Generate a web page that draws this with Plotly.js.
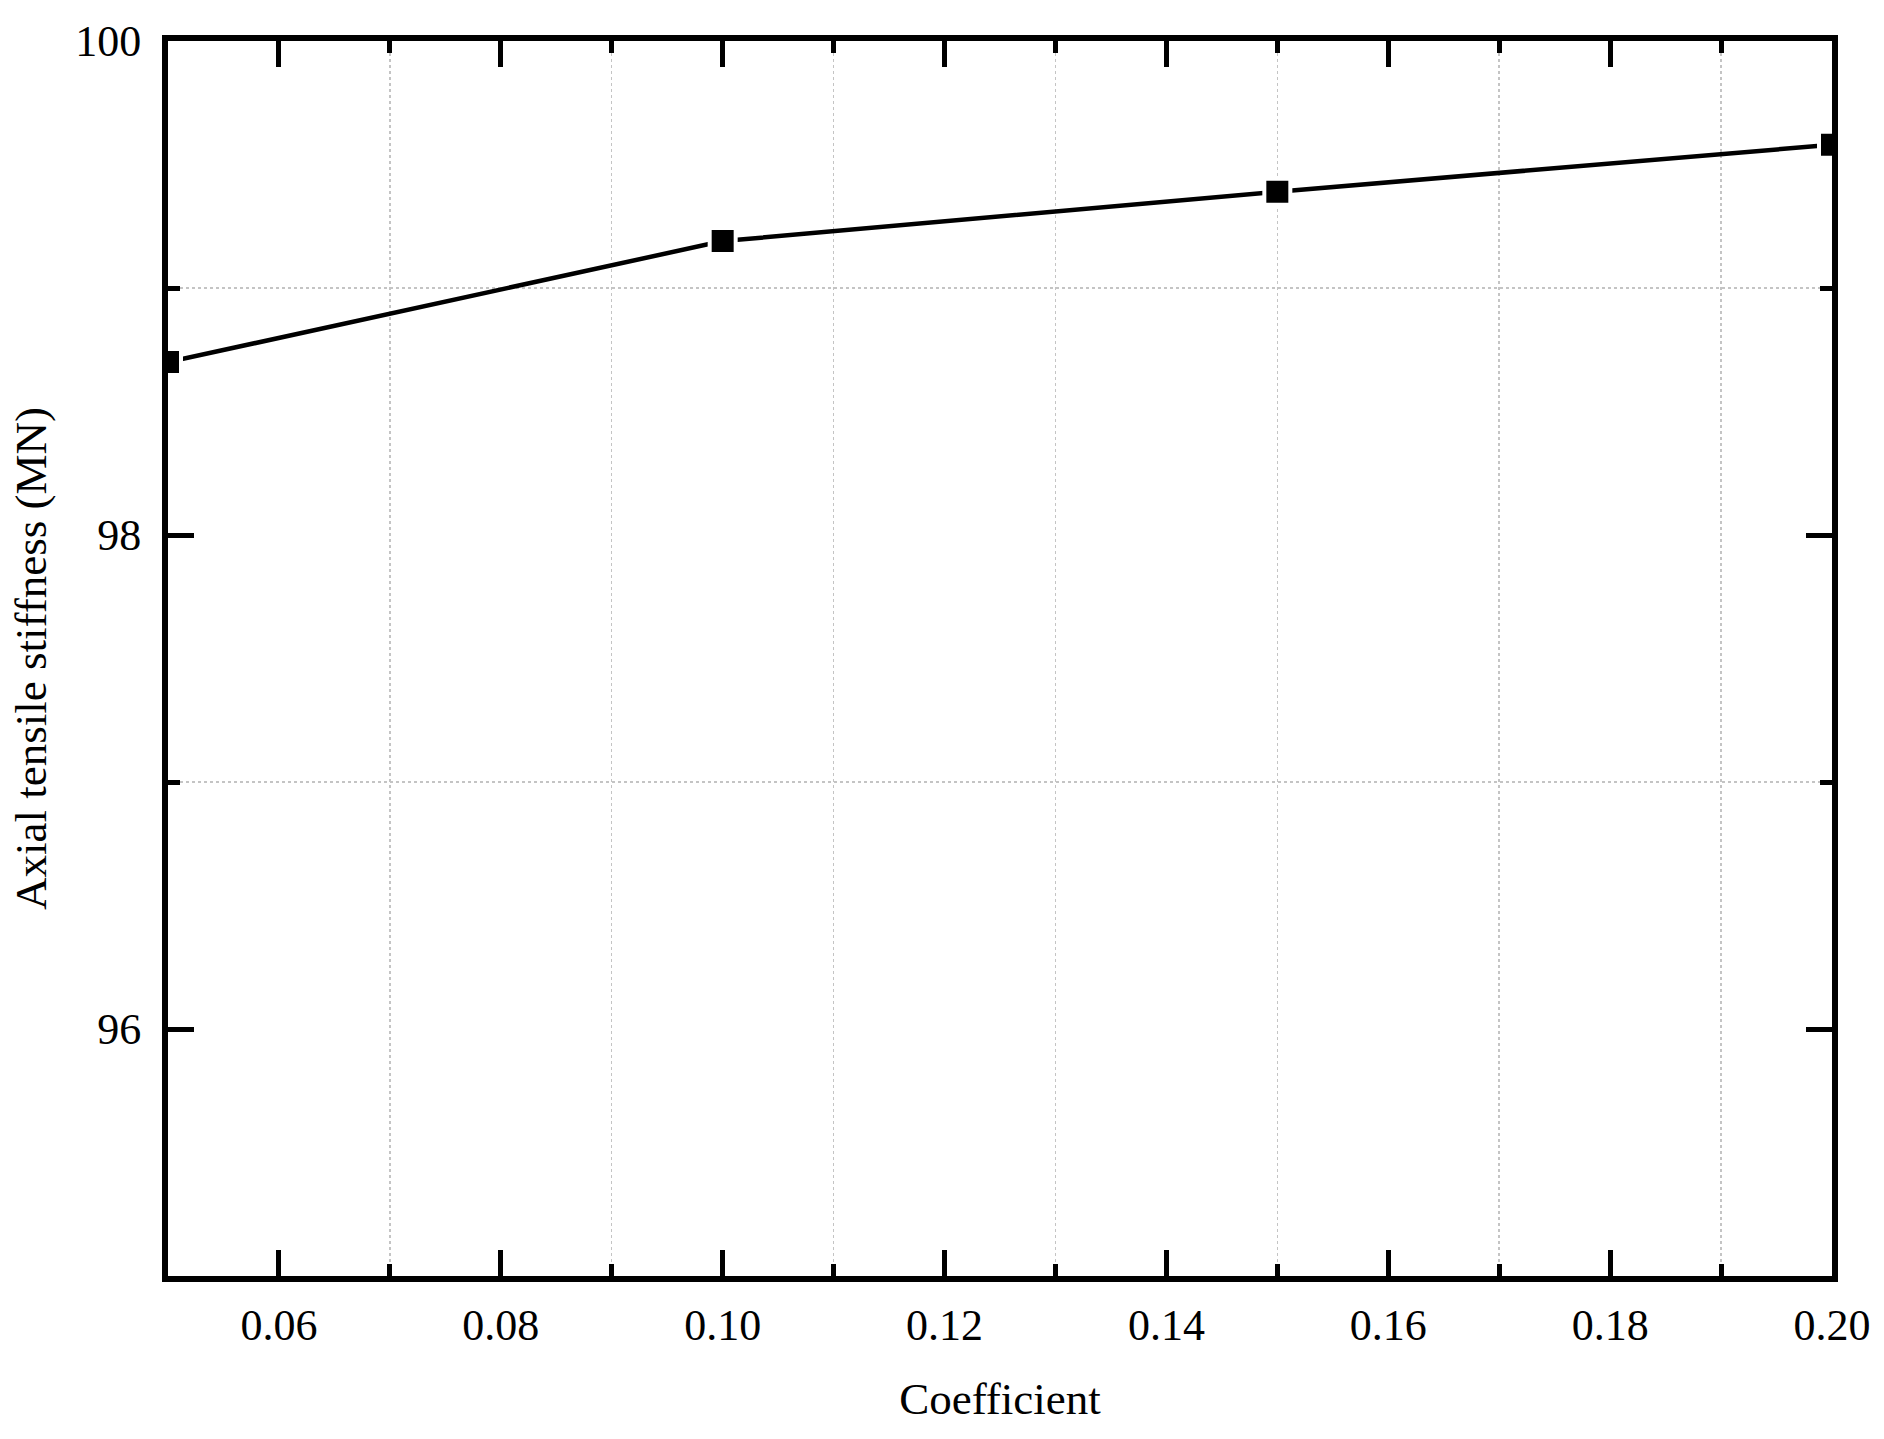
<!DOCTYPE html>
<html>
<head>
<meta charset="utf-8">
<script src="https://cdn.plot.ly/plotly-3.0.1.min.js"></script>
<style>html,body{margin:0;padding:0;background:#fff;}</style>
</head>
<body>
<div id="chart" style="width:1884px;height:1439px;"></div>
<script>
const coefficient = [0.05, 0.10, 0.15, 0.20];
const stiffness = [98.70, 99.19, 99.39, 99.58];

const family = '"Liberation Serif", "Times New Roman", serif';
const tickFont = {family: family, size: 44, color: '#000'};
const titleFont = {family: family, size: 45, color: '#000'};

const trace = {
  x: coefficient,
  y: stiffness,
  type: 'scatter',
  mode: 'lines+markers',
  line: {color: '#000', width: 4.5},
  marker: {symbol: 'square', size: 26, color: '#000', line: {color: '#fff', width: 4}},
  cliponaxis: true,
  showlegend: false
};

const axisCommon = {
  showline: true, linecolor: '#000', linewidth: 6, mirror: 'ticks',
  ticks: 'inside', ticklen: 26, tickwidth: 5, tickcolor: '#000',
  showgrid: false, zeroline: false, automargin: false,
  tickfont: tickFont, layer: 'above traces'
};

const layout = {
  width: 1884, height: 1439,
  margin: {l: 168, r: 52, t: 41, b: 163},
  paper_bgcolor: '#fff', plot_bgcolor: '#fff',
  font: tickFont,
  xaxis: Object.assign({}, axisCommon, {
    range: [0.05, 0.20], tick0: 0, dtick: 0.02, tickformat: '.2f',
    ticklabelstandoff: 5,
    minor: {dtick: 0.01, ticks: 'inside', ticklen: 12, tickwidth: 5, tickcolor: '#000',
            showgrid: true, gridcolor: '#c4c4c4', griddash: 'dot', gridwidth: 1.5},
    title: {text: 'Coefficient', font: titleFont, standoff: 36}
  }),
  yaxis: Object.assign({}, axisCommon, {
    range: [95, 100], tick0: 0, dtick: 2,
    ticklabelstandoff: 12,
    minor: {dtick: 1, ticks: 'inside', ticklen: 12, tickwidth: 5, tickcolor: '#000',
            showgrid: true, gridcolor: '#c4c4c4', griddash: 'dot', gridwidth: 1.5},
    title: {text: 'Axial tensile stiffness (MN)', font: titleFont, standoff: 16}
  })
};

Plotly.newPlot('chart', [trace], layout, {displayModeBar: false, staticPlot: true});
</script>
</body>
</html>
